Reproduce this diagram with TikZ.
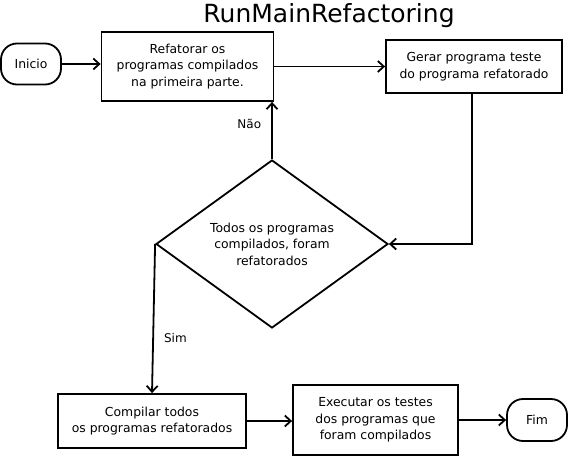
\documentclass[tikz,border=0pt]{standalone}
\usepackage{fontspec}
\setmainfont{DejaVu Sans}
\usetikzlibrary{arrows.meta,shapes.geometric}
\begin{document}
\begin{tikzpicture}[x=1pt,y=-1pt,
  every node/.style={font=\fontsize{12.4}{16.5}\selectfont, align=center, inner sep=0pt},
  proc/.style={draw, line width=1.8pt, rectangle},
  term/.style={draw, line width=1.8pt, rectangle, rounded corners=16pt},
  dec/.style={draw, line width=1.8pt, diamond, minimum width=232pt, minimum height=168pt},
  conn/.style={line width=1.8pt, -{Straight Barb[length=6pt,width=11pt,line width=1.8pt]}},
  lab/.style={font=\fontsize{12}{14}\selectfont}]
\useasboundingbox (0,0) rectangle (569,457);
\node[font=\fontsize{25}{30}\selectfont] (title) at (329,16) {RunMainRefactoring};
\node[term, minimum width=60pt, minimum height=41pt] (ini) at (31,64) {Inicio};
\node[proc, minimum width=172pt, minimum height=69pt] (b1) at (187.5,66.5) {Refatorar os\\programas compilados\\na primeira parte.};
\node[proc, minimum width=176pt, minimum height=53pt] (b2) at (474,66.5) {Gerar programa teste\\do programa refatorado};
\node[dec] (d) at (272,244) {Todos os programas\\compilados, foram\\refatorados};
\node[proc, minimum width=188pt, minimum height=54pt] (comp) at (152,421) {Compilar todos\\os programas refatorados};
\node[proc, minimum width=165pt, minimum height=70pt] (exe) at (375.5,420) {Executar os testes\\dos programas que\\foram compilados};
\node[term, minimum width=60pt, minimum height=42pt] (fim) at (537,420) {Fim};
\draw[conn] (ini.east) -- (ini.east -| b1.west);
\draw[conn] (b1.east) -- (b1.east -| b2.west);
\coordinate (b2s) at ([xshift=-2pt]b2.south);
\draw[conn] (b2s) |- (d.east);
\draw[conn] (d.north) -- (d.north |- b1.south) node[lab, pos=0.62, left=10pt] (nao) {Não};
\draw[conn] (d.west) -- (comp.north) node[lab, pos=0.63, right=10pt] (sim) {Sim};
\draw[conn] (comp.east) -- (comp.east -| exe.west);
\draw[conn] (exe.east) -- (exe.east -| fim.west);
\end{tikzpicture}
\end{document}
